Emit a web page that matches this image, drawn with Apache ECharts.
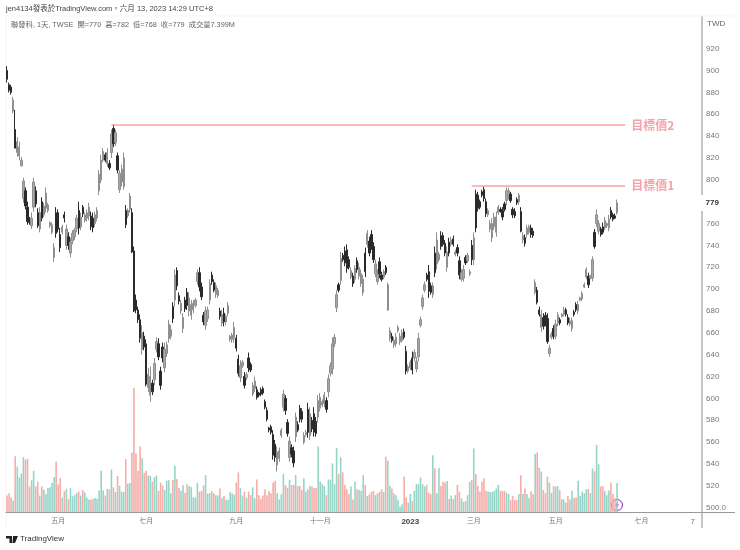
<!DOCTYPE html>
<html><head><meta charset="utf-8">
<style>html,body{margin:0;padding:0;background:#fff}#c{width:740px;height:550px}</style>
<script src="https://cdn.jsdelivr.net/npm/echarts@6/dist/echarts.min.js"></script>
</head><body><div id="c"></div>
<script>
// Each row: [body low, body high, wick low, wick high]
const priceBars = [
[892,900,889,904],[882,887,880,889],[880,885,878,887],[863,873,861,876],[829,846,829,864],[825,835,821,839],[822,830,818,835],[813,818,812,821],
[783,799,779,802],[776,790,773,793],[762,775,759,780],[761,764,759,766],[758,765,755,770],[775,798,771,802],[778,790,775,794],[758,770,756,774],[755,770,752,775],
[765,780,762,784],[768,776,766,779],[774,788,770,793],[772,777,770,779],[758,761,756,762],[752,759,750,761],[729,738,725,742],[751,770,747,775],[755,770,752,773],
[738,750,734,756],[752,757,750,759],[765,768,761,771],[740,755,736,759],[740,748,736,752],[733,743,729,747],[744,751,741,754],[748,754,745,756],[755,765,752,768],
[756,772,750,780],[757,766,754,770],[769,775,766,777],[763,768,761,770],[765,770,762,773],[767,775,763,779],[757,767,754,771],[756,765,752,770],[760,768,757,771],[765,772,762,775],
[790,805,786,809],[800,818,797,823],[818,826,816,829],[818,823,816,825],[815,825,812,829],[811,815,809,818],[825,842,820,846],[833,847,830,851],[834,843,831,846],
[809,822,806,825],[791,806,788,809],[798,810,794,814],[794,820,791,825],[759,772,756,777],[767,772,765,774],[773,785,770,788],[734,770,733,774],[680,735,679,739],
[681,690,678,695],[672,681,669,684],[655,672,651,677],[645,660,640,667],[647,657,644,661],[613,650,611,654],[610,622,606,628],[603,620,597,629],[606,614,603,617],[617,632,612,637],
[645,652,642,656],[638,650,635,655],[612,625,608,629],[637,647,633,651],[628,645,624,651],[641,649,638,652],[655,668,651,672],[657,663,654,667],[673,684,669,688],[690,713,684,718],
[703,717,699,720],[689,694,686,697],[680,687,677,690],[664,674,660,678],[682,690,679,693],[685,697,681,701],[680,692,675,697],[676,686,672,690],[681,687,678,690],[685,690,683,692],
[707,715,704,718],[702,715,698,720],[693,702,690,706],[670,676,667,679],[667,680,663,684],[673,681,670,684],[690,705,686,709],[707,713,704,716],[699,706,697,709],[695,703,692,706],
[694,699,692,701],[675,680,672,683],[669,677,666,681],[670,678,666,683],[670,675,667,677],[678,685,675,688],[654,657,652,658],[654,658,651,660],[655,665,651,670],[646,655,643,658],
[623,636,620,640],[619,630,615,635],[630,633,628,635],[612,620,609,624],[619,622,617,624],[628,637,624,642],[626,631,624,633],[604,612,602,615],[609,616,606,620],[601,608,599,611],
[603,605,601,606],[604,608,602,610],[605,609,603,611],[592,597,590,599],[581,589,579,592],[571,573,569,574],[569,574,567,576],[548,567,544,571],[546,558,542,562],[539,551,533,556],
[545,552,542,555],[566,571,564,573],[592,604,588,608],[589,600,585,603],[568,578,565,581],[546,561,542,565],[549,555,546,558],[541,552,537,556],[565,583,560,587],[571,576,569,579],
[581,591,578,594],[581,588,578,591],[560,566,558,569],[567,569,565,571],[569,590,564,596],[566,586,562,592],[572,580,569,583],[569,586,565,592],[568,579,565,583],[583,598,578,603],
[591,601,588,605],[594,597,592,599],[595,603,592,606],[590,598,587,601],[606,618,601,622],[623,630,620,633],[627,650,622,656],[650,656,647,659],[683,695,679,699],[699,704,697,706],
[708,728,704,734],[727,731,725,733],[724,735,721,739],[719,736,715,741],[720,727,718,730],[711,717,709,720],[705,712,702,715],[709,719,706,722],[718,726,715,729],[712,720,709,724],
[705,714,702,718],[697,709,694,713],[716,733,711,738],[741,751,738,754],[733,744,730,748],[739,750,736,754],[727,739,724,743],[714,723,711,727],[707,714,704,718],[714,725,710,729],
[709,713,707,716],[711,716,709,718],[715,720,713,722],[681,704,680,706],[655,662,652,665],[653,657,651,660],[649,653,646,656],[650,656,647,660],[662,665,660,667],[652,657,649,660],
[653,660,651,663],[656,661,654,664],[625,643,622,648],[625,629,623,631],[628,633,626,635],[626,637,622,643],[637,642,634,645],[627,634,624,638],[638,655,634,660],[667,672,665,675],
[684,692,681,695],[699,704,697,707],[709,713,707,715],[698,716,692,722],[697,703,695,706],[695,703,692,706],[715,733,711,739],[723,745,718,752],[727,732,725,734],[739,749,736,753],
[741,749,739,752],[733,742,730,745],[720,734,716,739],[733,743,730,747],[741,745,739,748],[741,746,739,749],[732,734,730,736],[733,738,730,741],[713,726,709,730],[709,715,707,718],
[710,718,707,722],[724,729,722,731],[726,731,724,733],[714,716,712,718],[727,740,722,745],[727,747,722,752],[756,787,752,791],[774,786,771,789],[775,780,773,782],[786,789,784,791],
[783,791,780,794],[769,780,766,783],[768,772,766,774],[755,760,752,763],[747,760,743,765],[757,766,754,770],[752,766,748,771],[770,775,768,777],[771,773,770,775],[766,772,763,775],
[773,778,771,780],[781,790,777,793],[784,790,782,793],[781,787,779,789],[768,773,765,775],[767,771,765,774],[779,782,777,784],[780,786,777,788],[753,771,752,775],[745,749,742,752],
[742,747,739,750],[750,756,747,759],[752,757,750,759],[750,756,747,759],[749,753,747,756],[697,706,695,709],[688,699,686,702],[677,681,675,684],[665,677,661,681],[666,674,663,678],
[669,676,666,679],[652,673,650,678],[641,646,638,649],[656,659,654,661],[657,664,654,667],[657,668,654,672],[669,676,666,679],[669,672,667,674],[675,677,674,678],[677,681,675,684],
[677,681,675,683],[669,674,667,677],[668,671,666,674],[664,671,661,674],[677,679,675,681],[681,686,679,688],[680,686,677,689],[690,692,689,693],[691,696,689,698],[702,704,701,706],
[711,718,709,720],[704,712,701,715],[710,712,709,713],[710,727,707,730],[739,752,737,755],[760,768,757,773],[753,760,750,763],[750,755,748,757],[752,757,750,761],[756,763,754,766],
[758,760,756,761],[756,764,753,768],[766,772,764,775],[764,768,762,770],[765,767,764,769],[770,779,768,782]
];
const volumes = [
4.2,4.8,3.7,2.9,14.2,11.6,8.8,9.8,14.0,13.3,13.6,6.5,8.1,10.5,6.5,7.7,4.2,6.5,5.7,4.6,6.1,6.3,7.4,8.9,12.8,7.0,8.7,3.7,5.3,5.9,3.3,6.1,4.0,4.3,4.8,5.2,4.2,5.6,5.0,3.7,
3.2,3.1,3.3,3.6,3.4,5.5,10.5,5.5,4.2,5.9,5.7,10.8,6.3,5.1,9.2,6.7,5.2,5.1,13.5,7.2,7.4,15.2,31.6,15.0,10.5,16.7,13.7,10.0,10.5,9.3,9.2,7.8,8.9,9.3,5.4,7.5,6.8,5.6,8.0,8.1,
4.8,8.2,11.8,8.4,6.1,5.4,6.8,4.9,7.1,6.6,6.4,3.7,3.7,7.4,5.2,5.4,6.8,9.4,4.7,4.8,5.4,4.8,4.3,4.2,6.0,3.6,4.1,3.1,3.1,5.1,4.7,4.4,7.5,10.1,6.1,4.2,5.2,3.6,5.2,
4.3,6.3,3.5,8.3,4.3,3.3,4.2,5.8,4.3,5.3,4.8,7.5,8.0,4.8,3.2,4.5,9.7,6.9,6.2,8.2,6.9,6.9,9.4,6.6,6.6,5.6,8.6,5.2,5.8,6.6,6.5,6.1,6.1,16.7,7.8,7.1,6.6,4.3,8.3,8.2,12.4,7.1,16.3,9.7,13.9,10.1,
6.9,5.8,4.6,6.5,3.2,7.7,5.8,5.6,5.4,9.4,6.9,4.1,4.5,5.1,5.4,4.3,4.8,5.2,5.8,5.1,14.1,13.1,6.7,6.0,4.8,4.3,3.1,1.4,2.0,9.0,3.7,2.4,4.6,2.8,5.4,7.1,7.1,8.8,7.1,6.5,6.9,4.9,4.6,14.5,11.1,
4.8,11.2,6.6,7.7,7.5,7.9,3.3,4.2,3.3,4.3,6.9,5.2,3.5,2.6,2.8,4.3,7.7,8.2,16.2,9.7,6.6,5.2,7.7,8.6,5.4,5.2,
5.1,5.1,5.4,6.0,6.9,5.4,5.4,5.4,4.9,4.6,3.1,4.1,3.1,3.1,4.6,9.4,4.6,6.0,4.6,3.6,5.3,4.5,14.8,15.2,11.3,10.3,5.6,4.8,9.0,7.5,4.9,6.6,6.5,6.6,5.6,3.3,3.2,2.4,4.1,3.2,5.4,3.6,3.7,8.0,4.1,5.2,4.8,5.8,5.9,4.8,11.1,10.4,17.1,12.2,6.5,6.6,5.4,4.3,5.5,7.5,4.6,3.5,7.399
];
// One letter per bar: p = falling (pink), t = rising (teal)
const directions = [
"ppptpttttp","ppttpptptt","ttttppptpt","pttttptptt","tpptttttpt","ptptptttpt","tppppptppt","tpttpppttt","tptppttppt","ttttpppttt","ppttptpttt","ttppttptp",
"pttppppppp","pppttttppt","pptpppttpt","pppttttptt","tttptppppt","ptptttptpp","pttpptpttp","tttttppttp","ttttttpppt","pttppptptp","tppttpttpt","ppppppt",
"tttttppptt","pppptptptt","pptpptpppt","tpttpttppt","tpptttttpt","tpttpptttp","ppt"
].join("");
const tickIndex = [25,68,112,153,197,228,268,310,335];
const tickLabels = ["五月","七月","九月","十一月","2023","三月","五月","七月","7"];
const targetLabels = ["目標價2","目標價1"];
const targetPrices = [850,795];
const targetStart = [51,227];
const targetEnd = 302;
const slotCount = 340;
const priceTicksHidden = [780,940,960];
</script>
<script>
const chart = echarts.init(document.getElementById('c'),null,{renderer:'canvas'});
const FF = "'Liberation Sans','Noto Sans CJK TC',sans-serif";
const categories = Array.from({length:slotCount},(_, i)=>{const k=tickIndex.indexOf(i);return k>=0?tickLabels[k]:'';});
const volumeUp = volumes.map((v,i)=>directions[i]==='t');
const candleData = priceBars.map((r,i)=>volumeUp[i]?[r[0],r[1],r[2],r[3]]:[r[1],r[0],r[2],r[3]]);
const PINK='#f6aca8', TEAL='#94d5c8';
chart.setOption({
  animation:false,
  backgroundColor:'#fff',
  grid:[{left:6,width:696,top:5,height:502.7},{left:6,width:696,top:386.5,height:125.5}],
  xAxis:[
    {type:'category',gridIndex:0,data:categories,show:false},
    {type:'category',gridIndex:1,data:categories,axisTick:{show:false},splitLine:{show:false},
     axisLine:{show:true,lineStyle:{color:'#9a9a9a',width:1}},
     axisLabel:{interval:(i)=>tickIndex.includes(i),margin:6,fontSize:7,color:'#777',fontFamily:FF,hideOverlap:false,
       formatter:v=>v==='2023'?'{b|2023}':(v==='7'?'{d|7}':v),
       rich:{b:{fontWeight:'bold',fontSize:8,color:'#444',fontFamily:FF},d:{fontSize:8,color:'#777',fontFamily:FF}}}}
  ],
  yAxis:[
    {type:'value',gridIndex:0,position:'right',min:500,max:960,interval:20,splitLine:{show:false},axisTick:{show:false},axisLine:{show:false},
     axisLabel:{margin:4,fontSize:8,color:'#777',fontFamily:FF,hideOverlap:false,
       formatter:v=>priceTicksHidden.includes(v)?'':(v===500?'500.0':String(v))}},
    {type:'value',gridIndex:1,min:0,max:32,show:false}
  ],
  series:[
    {type:'bar',xAxisIndex:1,yAxisIndex:1,barWidth:1.6,silent:true,
     data:volumes.map((v,i)=>({value:v,itemStyle:{color:volumeUp[i]?TEAL:PINK}}))},
    {type:'candlestick',xAxisIndex:0,yAxisIndex:0,barWidth:1.8,silent:true,
     itemStyle:{color:'#a8a8a8',color0:'#2a2a2a',borderColor:'#8f8f8f',borderColor0:'#2a2a2a',borderWidth:1},
     data:candleData,
     markLine:{silent:true,symbol:'none',animation:false,
       lineStyle:{color:'#f5a5a5',width:1.6,type:'solid'},
       label:{show:true,position:'end',distance:6,fontSize:12,fontWeight:'bold',color:'#f4a3ac',fontFamily:"'Noto Sans CJK TC',sans-serif",formatter:p=>p.data.name||''},
       data:targetPrices.map((p,k)=>[{coord:[targetStart[k],p],name:targetLabels[k]},{coord:[targetEnd,p]}])}}
  ],
  graphic:[
    {type:'line',shape:{x1:702,y1:16,x2:702,y2:195},style:{stroke:'#c6c6c6',lineWidth:2},silent:true},
    {type:'line',shape:{x1:702,y1:211,x2:702,y2:528},style:{stroke:'#c6c6c6',lineWidth:2},silent:true},
    {type:'line',shape:{x1:702,y1:512.5,x2:735,y2:512.5},style:{stroke:'#9a9a9a',lineWidth:1},silent:true},
    {type:'line',shape:{x1:6,y1:16,x2:735,y2:16},style:{stroke:'#f5f5f5',lineWidth:1},silent:true},
    {type:'line',shape:{x1:6,y1:16,x2:6,y2:528},style:{stroke:'#f4f4f4',lineWidth:1},silent:true},
    {type:'text',x:6,y:5,silent:true,style:{text:'jen4134發表於TradingView.com，六月 13, 2023 14:29 UTC+8',fontSize:7.5,fill:'#444',fontFamily:FF}},
    {type:'text',x:11,y:21.5,silent:true,style:{text:'聯發科, 1天, TWSE  開=770  高=782  低=768  收=779  成交量7.399M',fontSize:7.3,fill:'#666',fontFamily:FF}},
    {type:'text',x:707,y:20,silent:true,style:{text:'TWD',fontSize:8,fill:'#666',fontFamily:FF}},
    {type:'text',x:20,y:535,silent:true,style:{text:'TradingView',fontSize:8,fill:'#333',fontFamily:FF}},
    {type:'polygon',shape:{points:[[6,536],[12,536],[12,543],[9.5,543],[9.5,538.5],[6,538.5]]},style:{fill:'#222'},silent:true},
    {type:'polygon',shape:{points:[[13,536],[18,536],[15,543],[12.5,543]]},style:{fill:'#222'},silent:true},
    {type:'circle',shape:{cx:617,cy:505,r:5.5},style:{fill:'#fff',stroke:'#8e24aa',lineWidth:1},silent:true},
    {type:'polygon',shape:{points:[[618,501.5],[615,505.5],[616.7,505.5],[616,508.5],[619,504.5],[617.3,504.5]]},style:{fill:'#8e24aa'},silent:true}
  ]
});
const lastClose = priceBars[priceBars.length-1][1];
const py = chart.convertToPixel({yAxisIndex:0},lastClose);
chart.setOption({graphic:chart.getOption().graphic[0].elements.concat([
  {type:'text',x:705.5,y:py-4.5,silent:true,style:{text:String(lastClose),fontSize:8,fontWeight:'bold',fill:'#333',fontFamily:FF}}
])});
</script>
</body></html>
